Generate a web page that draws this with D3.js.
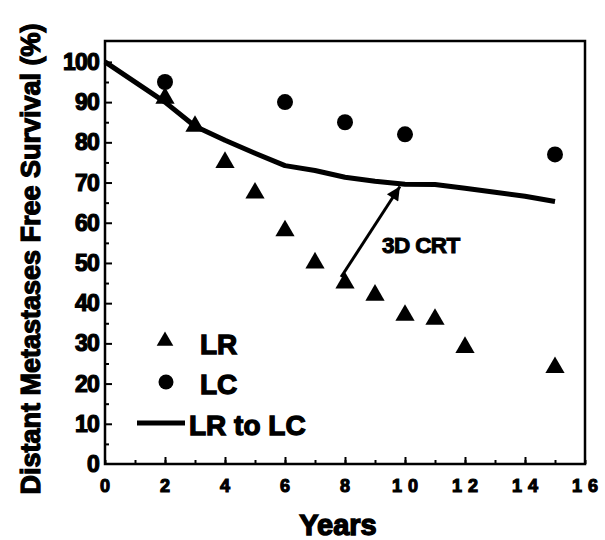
<!DOCTYPE html>
<html>
<head>
  <meta charset="utf-8">
  <title>Distant metastases free survival</title>
  <script src="https://cdn.jsdelivr.net/npm/d3@7/dist/d3.min.js"></script>
  <style>
    body { margin: 0; background: #fff; }
    text { font-family: "Liberation Sans", Arial, sans-serif; font-weight: bold; fill: #000; stroke: #000; }
  </style>
</head>
<body>
  <svg id="chart" width="605" height="540"></svg>

  <script>
    // LR = local relapse, LC = local control
    var lrYears = [2, 3, 4, 5, 6, 7, 8, 9, 10, 11, 12, 15];
    var lrValues = [91, 84, 75, 67.4, 58, 50, 45, 42, 37, 36, 29, 24];

    var lcYears = [2, 6, 8, 10, 15];
    var lcValues = [95, 90, 85, 82, 77];

    var lineYears = [0, 2, 3, 4, 5, 6, 7, 8, 9, 10, 11, 12, 13, 14, 15];
    var lineValues = [100, 90, 84, 80.5, 77.3, 74.2, 73, 71.3, 70.3, 69.6, 69.5, 68.6, 67.6, 66.6, 65.3];

    var xTicks = [0, 2, 4, 6, 8, 10, 12, 14, 16];
    var yTicks = [0, 10, 20, 30, 40, 50, 60, 70, 80, 90, 100];

    // 3D CRT arrow, from [year, %] to [year, %]
    var arrowFrom = [7.87, 46.5];
    var arrowTo = [9.83, 69];
    var arrowLabel = '3D CRT';

    var svg = d3.select('#chart');

    var x = d3.scaleLinear().domain([0, 16]).range([105, 585]);
    var y = d3.scaleLinear().domain([0, 105.2]).range([464, 41]);

    //frame
    svg.append('rect')
      .attr('x', x(0)).attr('y', y(105.2))
      .attr('width', x(16) - x(0)).attr('height', y(0) - y(105.2))
      .attr('fill', 'none').attr('stroke', '#000').attr('stroke-width', 2.5);

    //inward ticks, major + minor
    svg.append('g')
      .attr('transform', 'translate(0,' + y(0) + ')')
      .call(d3.axisTop(x).ticks(16).tickSize(4).tickFormat(''))
      .call(g => g.select('.domain').remove())
      .call(g => g.selectAll('line').attr('stroke-width', 2));
    svg.append('g')
      .attr('transform', 'translate(0,' + y(0) + ')')
      .call(d3.axisTop(x).tickValues(xTicks.slice(1, -1)).tickSize(7).tickFormat(''))
      .call(g => g.select('.domain').remove())
      .call(g => g.selectAll('line').attr('stroke-width', 2));

    svg.append('g')
      .attr('transform', 'translate(' + x(0) + ',0)')
      .call(d3.axisRight(y).tickValues(d3.range(5, 100, 10)).tickSize(4).tickFormat(''))
      .call(g => g.select('.domain').remove())
      .call(g => g.selectAll('line').attr('stroke-width', 2));
    svg.append('g')
      .attr('transform', 'translate(' + x(0) + ',0)')
      .call(d3.axisRight(y).tickValues(yTicks.slice(1)).tickSize(7).tickFormat(''))
      .call(g => g.select('.domain').remove())
      .call(g => g.selectAll('line').attr('stroke-width', 2));

    //tick labels
    svg.selectAll('.xlab')
      .data(xTicks)
      .enter().append('text')
      .attr('class', 'xlab')
      .attr('x', d => x(d) + 3)
      .attr('y', 492)
      .attr('text-anchor', 'middle')
      .attr('font-size', 18)
      .attr('letter-spacing', 6)
      .attr('stroke-width', 1.1)
      .text(d => d);

    svg.selectAll('.ylab')
      .data(yTicks)
      .enter().append('text')
      .attr('class', 'ylab')
      .attr('x', 99)
      .attr('y', d => y(d) + 8)
      .attr('text-anchor', 'end')
      .attr('font-size', 23)
      .attr('letter-spacing', -0.8)
      .attr('stroke-width', 1.2)
      .text(d => d);

    //axis titles
    svg.append('text')
      .attr('x', 338).attr('y', 535)
      .attr('text-anchor', 'middle')
      .attr('font-size', 29)
      .attr('stroke-width', 1.4)
      .text('Years');

    svg.append('text')
      .attr('transform', 'translate(40,259) rotate(-90)')
      .attr('text-anchor', 'middle')
      .attr('font-size', 27)
      .attr('stroke-width', 1.2)
      .text('Distant Metastases Free Survival (%)');

    //LR to LC line
    var line = d3.line()
      .x(d => x(d[0]))
      .y(d => y(d[1]));

    svg.append('path')
      .datum(d3.zip(lineYears, lineValues))
      .attr('fill', 'none')
      .attr('stroke', '#000')
      .attr('stroke-width', 5)
      .attr('stroke-linejoin', 'round')
      .attr('d', line);

    //LR triangles
    var tri = d3.symbol().type(d3.symbolTriangle).size(160);
    svg.selectAll('.lr')
      .data(d3.zip(lrYears, lrValues))
      .enter().append('path')
      .attr('class', 'lr')
      .attr('transform', d => 'translate(' + x(d[0]) + ',' + y(d[1]) + ')')
      .attr('d', tri);

    //LC circles
    svg.selectAll('.lc')
      .data(d3.zip(lcYears, lcValues))
      .enter().append('circle')
      .attr('class', 'lc')
      .attr('cx', d => x(d[0]))
      .attr('cy', d => y(d[1]))
      .attr('r', 8);

    //3D CRT arrow
    svg.append('defs').append('marker')
      .attr('id', 'head')
      .attr('viewBox', '0 0 10 10')
      .attr('refX', 10).attr('refY', 5)
      .attr('markerWidth', 7).attr('markerHeight', 4.5)
      .attr('markerUnits', 'strokeWidth')
      .attr('orient', 'auto')
      .append('path')
      .attr('d', 'M0,0L10,5L0,10Z');

    svg.append('line')
      .attr('x1', x(arrowFrom[0])).attr('y1', y(arrowFrom[1]))
      .attr('x2', x(arrowTo[0])).attr('y2', y(arrowTo[1]))
      .attr('stroke', '#000')
      .attr('stroke-width', 3)
      .attr('marker-end', 'url(#head)');

    svg.append('text')
      .attr('x', 382).attr('y', 253)
      .attr('font-size', 22.5)
      .attr('letter-spacing', -0.6)
      .attr('stroke-width', 1)
      .text(arrowLabel);

    //legend
    var legend = svg.append('g');
    legend.append('path')
      .attr('transform', 'translate(165,341)')
      .attr('d', d3.symbol().type(d3.symbolTriangle).size(120));
    legend.append('text')
      .attr('x', 200).attr('y', 354)
      .attr('font-size', 28)
      .attr('stroke-width', 1.3)
      .text('LR');

    legend.append('circle')
      .attr('cx', 166).attr('cy', 382).attr('r', 7.5);
    legend.append('text')
      .attr('x', 200).attr('y', 394)
      .attr('font-size', 28)
      .attr('stroke-width', 1.3)
      .text('LC');

    legend.append('line')
      .attr('x1', 137).attr('x2', 185)
      .attr('y1', 423).attr('y2', 423)
      .attr('stroke', '#000').attr('stroke-width', 5);
    legend.append('text')
      .attr('x', 189).attr('y', 435)
      .attr('font-size', 28)
      .attr('stroke-width', 1.3)
      .text('LR to LC');
  </script>
</body>
</html>
